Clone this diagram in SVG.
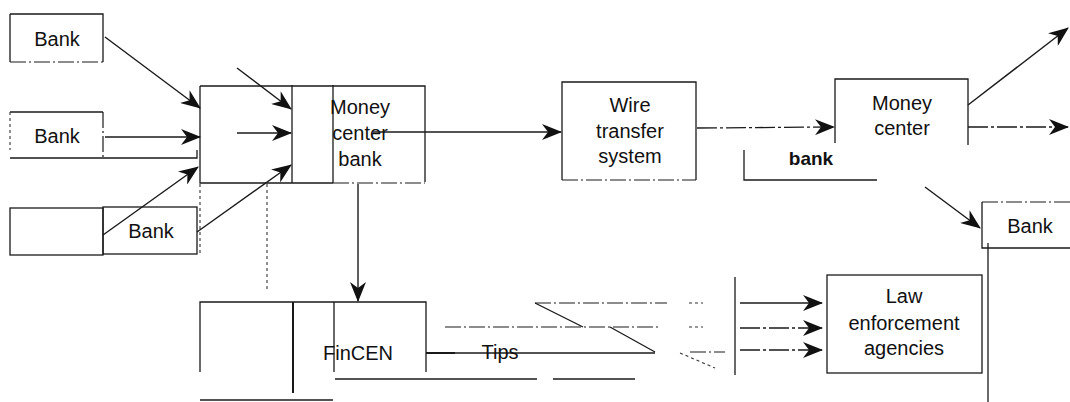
<svg xmlns="http://www.w3.org/2000/svg" width="1070" height="402" viewBox="0 0 1070 402">
<style>
  .ln{fill:none;stroke:#1a1a1a;stroke-width:1.3}
  .th{fill:none;stroke:#1a1a1a;stroke-width:2}
  .ds{fill:none;stroke:#1a1a1a;stroke-width:1.2;stroke-dasharray:16 3 2 3}
  .dt{fill:none;stroke:#333;stroke-width:1.1;stroke-dasharray:3 3}
  .ar{fill:none;stroke:#1a1a1a;stroke-width:1.4;marker-end:url(#ah)}
  .ard{fill:none;stroke:#1a1a1a;stroke-width:1.3;stroke-dasharray:20 3 3 3;marker-end:url(#ah)}
  text{font-family:"Liberation Sans",Arial,sans-serif;font-size:20px;fill:#111;text-anchor:middle}
  .b{font-weight:bold;font-size:19px}
</style>
<defs>
  <marker id="ah" markerUnits="userSpaceOnUse" markerWidth="20" markerHeight="16" viewBox="0 0 20 16" refX="19" refY="8" orient="auto">
    <path d="M0,0 L20,8 L0,16 L6,8 z" fill="#111"/>
  </marker>
</defs>

<g id="bank1">
  <path class="ln" d="M10,14 H103 V62"/>
  <path class="ln" d="M10,14 V62"/>
  <path class="ds" d="M10,62 H103"/>
  <text x="57" y="46">Bank</text>
</g>

<g id="bank2">
  <path class="ln" d="M10,112 H103"/>
  <path class="ds" d="M103,112 V158"/>
  <path class="dt" d="M10,112 V150"/>
  <path class="ln" d="M10,158 H197 V150"/>
  <text x="57" y="143">Bank</text>
</g>

<g id="bank3">
  <rect class="ln" x="10" y="208" width="93" height="47"/>
  <rect class="ln" x="103" y="207" width="94" height="47"/>
  <path class="dt" d="M200,184 V255"/>
  <text x="151" y="238">Bank</text>
</g>

<g id="money-center-bank">
  <path class="ln" d="M200,86 H425 V182"/>
  <path class="ln" d="M200,86 V183 H333"/>
  <path class="ds" d="M333,183 H425"/>
  <path class="ln" d="M292,85 V183"/>
  <path class="ln" d="M333,85 V183"/>
  <text x="360" y="114">Money</text>
  <text x="360" y="140">center</text>
  <text x="360" y="166">bank</text>
</g>

<g id="wire-transfer-system">
  <path class="ln" d="M562,180 V82 H696 V180"/>
  <path class="ds" d="M562,180 H696"/>
  <text x="630" y="112">Wire</text>
  <text x="630" y="138">transfer</text>
  <text x="630" y="163">system</text>
</g>

<g id="money-center">
  <path class="ln" d="M835,143 V79 H968 V145"/>
  <path class="ln" d="M744,150 V180 H877"/>
  <text x="902" y="110">Money</text>
  <text x="902" y="135">center</text>
  <text class="b" x="811" y="165">bank</text>
</g>

<g id="bank-right">
  <path class="ds" d="M982,202 H1070"/>
  <path class="ln" d="M982,202 V248 H1070"/>
  <path class="ln" d="M988,243 V402"/>
  <text x="1030" y="233">Bank</text>
</g>

<g id="fincen">
  <path class="ln" d="M200,372 V302 H426 V372"/>
  <path class="th" d="M293,302 V393"/>
  <path class="ln" d="M334,302 V372"/>
  <path class="ln" d="M200,400 H333"/>
  <path class="ln" d="M335,379 H537"/>
  <path class="ln" d="M553,379 H635"/>
  <text x="358" y="360">FinCEN</text>
</g>

<g id="law-enforcement-agencies">
  <rect class="ln" x="827" y="275" width="155" height="98"/>
  <text x="904" y="303">Law</text>
  <text x="904" y="330">enforcement</text>
  <text x="904" y="355">agencies</text>
</g>

<g id="connectors">
  <path class="ar" d="M105,37 L200,108"/>
  <path class="ar" d="M105,137 L200,137"/>
  <path class="ar" d="M103,235 L198,167"/>
  <path class="ar" d="M197,232 L291,165"/>
  <path class="ar" d="M237,68 L291,109"/>
  <path class="ar" d="M237,133 L291,133"/>
  <path class="ar" d="M373,132 L561,132"/>
  <path class="ard" d="M697,128 L834,127"/>
  <path class="ar" d="M968,105 L1068,28"/>
  <path class="ard" d="M968,127 L1068,127"/>
  <path class="ar" d="M925,187 L980,228"/>
  <path class="ar" d="M358,184 L358,301"/>
  <path class="dt" d="M267,184 V290"/>
  <path class="th" d="M426,353 H455"/>
  <path class="ln" d="M426,353 H655"/>
  <text x="500" y="359">Tips</text>
  <path class="ds" d="M445,327 H660"/>
  <path class="ds" d="M535,303 H667"/>
  <path class="ln" d="M535,303 L583,327"/>
  <path class="ln" d="M610,327 L655,352"/>
  <path class="dt" d="M689,303 H703 M689,327 H703"/>
  <path class="ds" d="M690,352 H725"/>
  <path class="dt" d="M680,353 L715,368"/>
  <path class="ln" d="M735,277 V375"/>
  <path class="ar" d="M740,303 L822,303"/>
  <path class="ard" d="M740,328 L822,328"/>
  <path class="ard" d="M740,350 L822,350"/>
</g>
</svg>
